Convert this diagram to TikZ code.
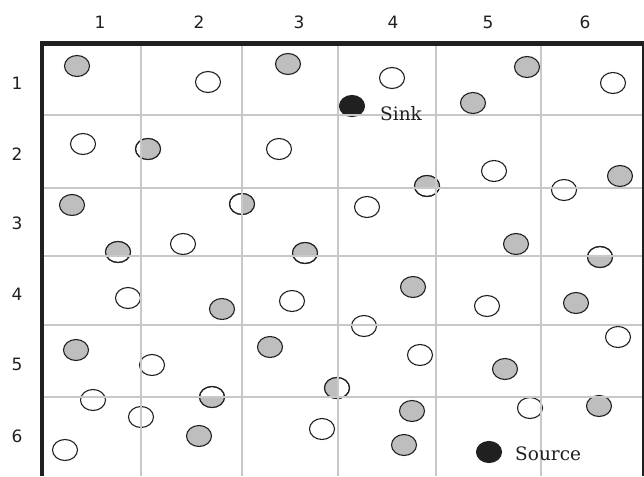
\documentclass[tikz,border=0pt]{standalone}
\usepackage{fontspec}
\setmainfont{DejaVu Serif}
\newfontfamily\lblfont{DejaVu Sans}
\usetikzlibrary{shapes.geometric}
\definecolor{gfill}{RGB}{190,190,190}
\definecolor{gridc}{RGB}{200,200,200}
\definecolor{dark}{RGB}{32,32,32}
\begin{document}
\begin{tikzpicture}[x=1pt,y=-1pt,
  nd/.style={ellipse, draw=dark, line width=1.1pt, minimum width=25pt, minimum height=21pt, inner sep=0pt},
  wn/.style={nd, fill=white},
  gn/.style={nd, fill=gfill},
  bn/.style={nd, fill=dark},
  rim/.style={draw=dark, line width=1.1pt},
  gridline/.style={draw=gridc, line width=1.6pt},
  border/.style={draw=dark, line width=4.8pt},
  thinborder/.style={draw=dark, line width=2pt},
  axislbl/.style={font=\lblfont\fontsize{17}{17}\selectfont, text=dark},
  tag/.style={font=\fontsize{18.5}{18.5}\selectfont, text=dark, anchor=base west, inner sep=0pt}
]
\useasboundingbox (0,0) rectangle (644,476);

% white nodes
\foreach \n/\p in {w1/{(208,82)}, w2/{(392,78)}, w3/{(613,83)}, w4/{(83,144)}, w5/{(279,149)},
  w6/{(494,171)}, w7/{(564,190)}, w8/{(367,207)}, w9/{(183,244)}, w10/{(128,298)},
  w11/{(292,301)}, w12/{(487,306)}, w13/{(152,365)}, w14/{(364,326)}, w15/{(420,355)},
  w16/{(618,337)}, w17/{(93,400)}, w18/{(141,417)}, w19/{(530,408)}, w20/{(65,450)}, w21/{(322,429)}}
  \node[wn] (\n) at \p {};

% gray nodes
\foreach \n/\p in {g1/{(77,66)}, g2/{(288,64)}, g3/{(527,67)}, g4/{(473,103)}, g5/{(620,176)},
  g6/{(72,205)}, g7/{(516,244)}, g8/{(222,309)}, g9/{(413,287)}, g10/{(576,303)},
  g11/{(76,350)}, g12/{(270,347)}, g13/{(505,369)}, g14/{(412,411)}, g15/{(599,406)},
  g16/{(199,436)}, g17/{(404,445)}}
  \node[gn] (\n) at \p {};

% split nodes (partly gray)
\node[wn] (s1) at (148,149) {};
\node[wn] (s2) at (242,204) {};
\node[wn] (s3) at (118,252) {};
\node[wn] (s4) at (305,253) {};
\node[wn] (s5) at (427,186) {};
\node[wn] (s6) at (600,257) {};
\node[wn] (s7) at (212,397) {};
\node[wn] (s8) at (337,388) {};
\begin{scope}\clip (141,120) rectangle (170,180);
  \fill[gfill] (s1.center) ellipse [x radius=12.5pt, y radius=10.5pt];\end{scope}
\begin{scope}\clip (242,180) rectangle (270,230);
  \fill[gfill] (s2.center) ellipse [x radius=12.5pt, y radius=10.5pt];\end{scope}
\begin{scope}\clip (90,230) rectangle (150,256);
  \fill[gfill] (s3.center) ellipse [x radius=12.5pt, y radius=10.5pt];\end{scope}
\begin{scope}\clip (280,230) rectangle (330,256);
  \fill[gfill] (s4.center) ellipse [x radius=12.5pt, y radius=10.5pt];\end{scope}
\begin{scope}\clip (400,160) rectangle (460,188);
  \fill[gfill] (s5.center) ellipse [x radius=12.5pt, y radius=10.5pt];\end{scope}
\begin{scope}\clip (570,256) rectangle (630,290);
  \fill[gfill] (s6.center) ellipse [x radius=12.5pt, y radius=10.5pt];\end{scope}
\begin{scope}\clip (180,397) rectangle (240,430);
  \fill[gfill] (s7.center) ellipse [x radius=12.5pt, y radius=10.5pt];\end{scope}
\begin{scope}\clip (300,360) rectangle (338,420);
  \fill[gfill] (s8.center) ellipse [x radius=12.5pt, y radius=10.5pt];\end{scope}
\foreach \n in {s1,s2,s3,s4,s5,s6,s7,s8}
  \draw[rim] (\n.center) ellipse [x radius=12.5pt, y radius=10.5pt];

% sink and source
\node[bn] (sink) at (352,106) {};
\node[bn] (source) at (489,452) {};

% grid
\foreach \x in {141,242,338,436,541} \draw[gridline] (\x,44) -- (\x,476);
\foreach \y in {115,188,256,325,397} \draw[gridline] (43,\y) -- (643,\y);

% borders
\draw[border] (42,43.5) -- (644,43.5);
\draw[border] (42,41.5) -- (42,476);
\draw[thinborder] (643,43) -- (643,476);

% axis labels
\foreach \t/\x in {1/100,2/199,3/299,4/393,5/488,6/585}
  \node[axislbl] (c\t) at (\x,22) {\t};
\foreach \t/\y in {1/83,2/154,3/223,4/294,5/364,6/436}
  \node[axislbl] (r\t) at (17,\y) {\t};

% texts
\node[tag] (sinklbl) at (380,120) {Sink};
\node[tag] (sourcelbl) at (515,460) {Source};
\end{tikzpicture}
\end{document}
